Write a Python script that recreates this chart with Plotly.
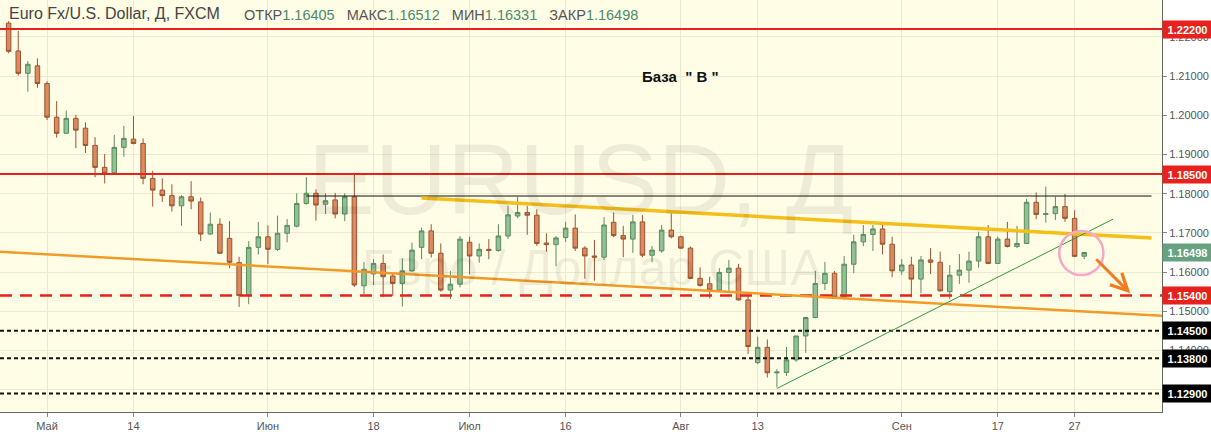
import numpy as np
import pandas as pd
import plotly.graph_objects as go

# ---------------- data ----------------
dates = pd.bdate_range("2018-04-25", "2018-09-28").strftime("%Y-%m-%d").tolist()

opens = [1.2235, 1.2164, 1.2107, 1.2126, 1.2081, 1.1995, 1.1954, 1.1992, 1.1967, 1.1923,
         1.1867, 1.1853, 1.1918, 1.1939, 1.1928, 1.1839, 1.1809, 1.1795, 1.1769, 1.1792,
         1.1779, 1.1697, 1.1722, 1.1686, 1.1624, 1.1540, 1.1663, 1.1690, 1.1658, 1.1699,
         1.1717, 1.1775, 1.1801, 1.1773, 1.1784, 1.1748, 1.1792, 1.1565, 1.1595, 1.1622,
         1.1590, 1.1571, 1.1603, 1.1663, 1.1705, 1.1648, 1.1554, 1.1569, 1.1676, 1.1641,
         1.1658, 1.1655, 1.1692, 1.1743, 1.1752, 1.1745, 1.1674, 1.1670, 1.1688, 1.1712,
         1.1661, 1.1641, 1.1638, 1.1727, 1.1693, 1.1684, 1.1728, 1.1643, 1.1654, 1.1707,
         1.1690, 1.1661, 1.1584, 1.1570, 1.1554, 1.1599, 1.1610, 1.1529, 1.1369, 1.1408,
         1.1343, 1.1344, 1.1376, 1.1437, 1.1484, 1.1571, 1.1597, 1.1536, 1.1620, 1.1677,
         1.1696, 1.1710, 1.1671, 1.1603, 1.1618, 1.1582, 1.1631, 1.1625, 1.1550, 1.1592,
         1.1605, 1.1628, 1.1690, 1.1622, 1.1684, 1.1665, 1.1673, 1.1778, 1.1747, 1.1749,
         1.1767, 1.1737, 1.16405]
highs = [1.2240, 1.2215, 1.2138, 1.2145, 1.2087, 1.2036, 1.2012, 1.2001, 1.1982, 1.1944,
         1.1901, 1.1950, 1.1973, 1.1998, 1.1941, 1.1858, 1.1839, 1.1824, 1.1796, 1.1832,
         1.1790, 1.1752, 1.1737, 1.1730, 1.1639, 1.1679, 1.1728, 1.1719, 1.1744, 1.1735,
         1.1801, 1.1842, 1.1811, 1.1801, 1.1802, 1.1801, 1.1853, 1.1626, 1.1633, 1.1645,
         1.1599, 1.1635, 1.1675, 1.1713, 1.1722, 1.1673, 1.1603, 1.1692, 1.1690, 1.1673,
         1.1684, 1.1722, 1.1769, 1.1792, 1.1769, 1.1760, 1.1699, 1.1692, 1.1728, 1.1747,
         1.1666, 1.1682, 1.1740, 1.1752, 1.1718, 1.1746, 1.1745, 1.1666, 1.1720, 1.1750,
         1.1693, 1.1665, 1.1612, 1.1588, 1.1610, 1.1631, 1.1621, 1.1541, 1.1435, 1.1428,
         1.1352, 1.1409, 1.1437, 1.1486, 1.1603, 1.1626, 1.1603, 1.1641, 1.1695, 1.1720,
         1.1720, 1.1723, 1.1690, 1.1633, 1.1639, 1.1641, 1.1661, 1.1652, 1.1618, 1.1646,
         1.1652, 1.1703, 1.1720, 1.1690, 1.1728, 1.1718, 1.1786, 1.1803, 1.1818, 1.1792,
         1.1799, 1.1758, 1.16512]
lows = [1.2158, 1.2101, 1.2060, 1.2070, 1.1988, 1.1943, 1.1952, 1.1916, 1.1904, 1.1842,
        1.1826, 1.1848, 1.1894, 1.1926, 1.1824, 1.1767, 1.1779, 1.1754, 1.1718, 1.1760,
        1.1679, 1.1695, 1.1646, 1.1610, 1.1511, 1.1518, 1.1645, 1.1620, 1.1654, 1.1676,
        1.1714, 1.1772, 1.1731, 1.1748, 1.1737, 1.1730, 1.1562, 1.1544, 1.1567, 1.1536,
        1.1539, 1.1512, 1.1601, 1.1633, 1.1637, 1.1550, 1.1531, 1.1561, 1.1594, 1.1624,
        1.1633, 1.1652, 1.1684, 1.1737, 1.1695, 1.1667, 1.1652, 1.1615, 1.1677, 1.1654,
        1.1583, 1.1578, 1.1631, 1.1689, 1.1638, 1.1649, 1.1638, 1.1625, 1.1649, 1.1686,
        1.1659, 1.1582, 1.1563, 1.1533, 1.1550, 1.1549, 1.1527, 1.1391, 1.1365, 1.1331,
        1.1306, 1.1335, 1.1371, 1.1394, 1.1482, 1.1554, 1.1535, 1.1530, 1.1597, 1.1666,
        1.1654, 1.1645, 1.1587, 1.1593, 1.1536, 1.1546, 1.1595, 1.1550, 1.1531, 1.1570,
        1.1573, 1.1611, 1.1620, 1.1621, 1.1663, 1.1661, 1.1672, 1.1735, 1.1726, 1.1733,
        1.1728, 1.1639, 1.16331]
closes = [1.2163, 1.2107, 1.2130, 1.2081, 1.1995, 1.1954, 1.1992, 1.1962, 1.1923, 1.1867,
          1.1852, 1.1918, 1.1941, 1.1928, 1.1839, 1.1809, 1.1795, 1.1769, 1.1792, 1.1781,
          1.1697, 1.1722, 1.1648, 1.1625, 1.1540, 1.1663, 1.1690, 1.1658, 1.1699, 1.1719,
          1.1775, 1.1801, 1.1771, 1.1782, 1.1748, 1.1792, 1.1567, 1.1607, 1.1622, 1.1588,
          1.1571, 1.1603, 1.1656, 1.1705, 1.1648, 1.1554, 1.1569, 1.1684, 1.1641, 1.1658,
          1.1655, 1.1692, 1.1746, 1.1752, 1.1745, 1.1673, 1.1670, 1.1687, 1.1712, 1.1661,
          1.1641, 1.1638, 1.1720, 1.1693, 1.1684, 1.1728, 1.1643, 1.1656, 1.1707, 1.1690,
          1.1661, 1.1584, 1.1566, 1.1554, 1.1599, 1.1610, 1.1529, 1.1410, 1.1408, 1.1343,
          1.1345, 1.1376, 1.1437, 1.1484, 1.1571, 1.1597, 1.1536, 1.1620, 1.1677, 1.1696,
          1.1710, 1.1671, 1.1603, 1.1618, 1.1582, 1.1631, 1.1625, 1.1552, 1.1592, 1.1605,
          1.1628, 1.1690, 1.1622, 1.1684, 1.1665, 1.1673, 1.1778, 1.1747, 1.1749, 1.1767,
          1.1737, 1.1640, 1.16498]

tick_dates = ["2018-05-01", "2018-05-14", "2018-06-01", "2018-06-18", "2018-07-02", "2018-07-16",
              "2018-08-01", "2018-08-13", "2018-09-03", "2018-09-17", "2018-09-27"]
tick_text = ["Май", "14", "Июн", "18", "Июл", "16", "Авг", "13", "Сен", "17", "27"]

levels_solid = [1.222, 1.185]
levels_dashed = [1.154]
levels_dotted = [1.145, 1.138, 1.129]

# drawings: (date, price) anchor pairs
black_line = [("2018-06-07", 1.1794), ("2018-10-09", 1.1794)]
gold_line = [("2018-06-25", 1.1789), ("2018-10-09", 1.16866)]
orange_line = [("2018-04-25", 1.16506), ("2018-09-28", 1.14993)]
green_line = [("2018-08-15", 1.1303), ("2018-10-03", 1.1735)]
circle_box = [(109.4, 1.15924), (114.0, 1.17047)]
arrow = [(113.1, 1.16366), (116.8, 1.15458)]

header_title = "Euro Fx/U.S. Dollar, Д, FXCM"
ohlc_labels = ["ОТКР", "МАКС", "МИН", "ЗАКР"]
ohlc_values = [opens[-1], highs[-1], lows[-1], closes[-1]]

# ---------------- helpers ----------------
def pos(d):
    return float(np.busday_count(dates[0], d))

xs = list(range(len(dates)))
x_range = [-0.9, 120.1]
y_range = [1.1243, 1.2294]

FONT = "Liberation Sans, Arial, sans-serif"

fig = go.Figure()
fig.add_trace(go.Candlestick(
    x=xs, open=opens, high=highs, low=lows, close=closes,
    increasing=dict(line=dict(color="#5a8b5d", width=1), fillcolor="#8fc194"),
    decreasing=dict(line=dict(color="#9a5433", width=1), fillcolor="#dc8a5e"),
    whiskerwidth=0, hoverinfo="skip", showlegend=False,
))

shapes = []
for v in levels_solid:
    shapes.append(dict(type="line", xref="paper", x0=0, x1=1, yref="y", y0=v, y1=v,
                       line=dict(color="#e8211d", width=2), layer="above"))
for v in levels_dashed:
    shapes.append(dict(type="line", xref="paper", x0=0, x1=1, yref="y", y0=v, y1=v,
                       line=dict(color="#e8211d", width=2.5, dash="12px,8px"), layer="above"))
for v in levels_dotted:
    shapes.append(dict(type="line", xref="paper", x0=0, x1=1, yref="y", y0=v, y1=v,
                       line=dict(color="#111111", width=2, dash="4px,3px"), layer="above"))

shapes.append(dict(type="line", xref="x", yref="y",
                   x0=pos(black_line[0][0]), y0=black_line[0][1],
                   x1=pos(black_line[1][0]), y1=black_line[1][1],
                   line=dict(color="#111111", width=1), layer="above"))
shapes.append(dict(type="line", xref="x", yref="y",
                   x0=pos(gold_line[0][0]), y0=gold_line[0][1],
                   x1=pos(gold_line[1][0]), y1=gold_line[1][1],
                   line=dict(color="#f5bf19", width=3.5), layer="above"))
ox0, oy0 = pos(orange_line[0][0]), orange_line[0][1]
ox1, oy1 = pos(orange_line[1][0]), orange_line[1][1]
slope = (oy1 - oy0) / (ox1 - ox0)
shapes.append(dict(type="line", xref="x", yref="y",
                   x0=x_range[0], y0=oy0 + slope * (x_range[0] - ox0),
                   x1=x_range[1], y1=oy0 + slope * (x_range[1] - ox0),
                   line=dict(color="#f29a26", width=2.5), layer="above"))
shapes.append(dict(type="line", xref="x", yref="y",
                   x0=pos(green_line[0][0]), y0=green_line[0][1],
                   x1=pos(green_line[1][0]), y1=green_line[1][1],
                   line=dict(color="#2f9a3a", width=1), layer="above"))
shapes.append(dict(type="circle", xref="x", yref="y",
                   x0=circle_box[0][0], y0=circle_box[0][1],
                   x1=circle_box[1][0], y1=circle_box[1][1],
                   line=dict(color="#f4a9c9", width=2.5), layer="above"))

annotations = []
annotations.append(dict(text="EURUSD, Д", xref="paper", yref="paper", x=0.5, y=0.5655,
                        showarrow=False, xanchor="center", yanchor="middle",
                        font=dict(family=FONT, size=100, color="rgba(0,0,0,0.065)")))
annotations.append(dict(text="Евро / Доллар США", xref="paper", yref="paper", x=0.51, y=0.35,
                        showarrow=False, xanchor="center", yanchor="middle",
                        font=dict(family=FONT, size=50, color="rgba(0,0,0,0.065)")))
# header
annotations.append(dict(text=header_title, xref="paper", yref="paper", x=0, y=1 - 14 / 412,
                        xshift=7, showarrow=False, xanchor="left", yanchor="middle",
                        font=dict(family=FONT, size=16, color="#444444")))
sp = "\u00a0\u00a0\u00a0"
parts = []
for lab, val in zip(ohlc_labels, ohlc_values):
    parts.append(f"<span style='color:#555555'>{lab}</span><span style='color:#4c8a68'>{val:.5f}</span>")
annotations.append(dict(text=sp.join(parts), xref="paper", yref="paper", x=242 / 1162,
                        y=1 - 14.5 / 412, showarrow=False, xanchor="left", yanchor="middle",
                        font=dict(family=FONT, size=14.5)))
annotations.append(dict(text="<b>База  \" В \"</b>", xref="paper", yref="paper",
                        x=680 / 1162, y=1 - 76 / 412, showarrow=False,
                        xanchor="center", yanchor="middle",
                        font=dict(family=FONT, size=15, color="#111111")))
annotations.append(dict(x=arrow[1][0], y=arrow[1][1], ax=arrow[0][0], ay=arrow[0][1],
                        xref="x", yref="y", axref="x", ayref="y", text="",
                        showarrow=True, arrowhead=5, arrowsize=1.1, arrowwidth=3,
                        arrowcolor="#f27a1f"))

def price_label(v, bg):
    return dict(text=f"<b>{v:.5f}</b>", xref="paper", yref="y", x=1, y=v,
                xanchor="left", yanchor="middle", showarrow=False,
                bgcolor=bg, borderpad=2, width=45, height=13, align="center",
                font=dict(family=FONT, size=11, color="white"))

for v in levels_solid + levels_dashed:
    annotations.append(price_label(v, "#e8211d"))
for v in levels_dotted:
    annotations.append(price_label(v, "#000000"))
annotations.append(price_label(closes[-1], "#66a27f"))

fig.update_layout(
    width=1211, height=434,
    margin=dict(l=0, r=49, t=0, b=22),
    paper_bgcolor="white", plot_bgcolor="#fffde6",
    shapes=shapes, annotations=annotations,
    showlegend=False,
    xaxis=dict(range=x_range, rangeslider=dict(visible=False),
               tickvals=[pos(d) for d in tick_dates], ticktext=tick_text,
               showgrid=True, gridcolor="#ebead0", gridwidth=1,
               zeroline=False, showline=True, linecolor="#666666", linewidth=1,
               ticks="outside", ticklen=4, tickcolor="#888888",
               tickfont=dict(family="Liberation Sans Narrow, Arial Narrow, " + FONT, size=11, color="#555555")),
    yaxis=dict(range=y_range, side="right", dtick=0.01, tick0=1.0, tickformat=".5f",
               showgrid=True, gridcolor="#ebead0", gridwidth=1,
               zeroline=False, showline=True, linecolor="#666666", linewidth=1,
               ticks="outside", ticklen=4, tickcolor="#888888",
               tickfont=dict(family=FONT, size=11, color="#555555")),
    boxgap=0.33,
)

fig.write_html("out.html", config={"displayModeBar": False},
               post_script="document.body.style.margin='0';document.body.style.padding='0';")
